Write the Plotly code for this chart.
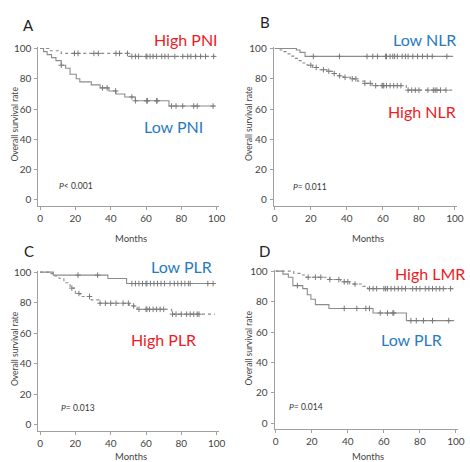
import plotly.graph_objects as go

W, H = 470, 462

# ---------------- data ----------------
# Panel A
a_high_t = [0, 5, 12, 50]
a_high_s = [100, 98.5, 96.8, 94.8]
a_high_cens = [19.5, 21.5, 30.5, 33, 43, 45, 49.5, 52, 54, 55.8, 60, 60.5, 62.3, 64, 66, 68.9, 70.7, 72.6, 76.3, 80.8, 83.6, 85.4, 88.1, 90.9, 93.7, 98.3]
a_low_t = [0, 2, 4, 6.5, 9, 12, 14.5, 17, 20.5, 22.5, 29, 34, 39, 43, 48, 54, 73]
a_low_s = [100, 98, 96, 94, 92, 89, 87, 83, 80, 78, 76, 74, 72, 70, 68, 65.5, 62]
a_low_cens = [12, 35.4, 38, 42.8, 52, 54, 60.4, 60.8, 66, 66.3, 74.4, 77, 80.8, 87, 89, 98]

# Panel B
b_low_t = [0, 12, 14, 16.8]
b_low_s = [100, 99, 97.5, 94.8]
b_low_cens = [21.4, 35.9, 51.2, 54.4, 57, 61.5, 62, 64, 65.5, 66.5, 68, 70.7, 72.5, 74, 76.6, 79.3, 82, 84.7, 87.4, 95.5]
b_high_t = [0, 3, 5, 7, 9, 11, 13, 15, 18, 21, 25, 29, 32, 35, 38, 42, 46, 50, 54, 73]
b_high_s = [100, 99, 98, 96.5, 95, 93.5, 92, 90.5, 89, 87.5, 86, 85, 83.5, 82, 81, 80, 78.5, 77, 75.5, 72.5]
b_high_cens = [20, 23, 27, 30, 33, 36, 39, 43, 45, 50, 53, 56, 59.5, 60, 60.5, 62, 64, 66, 68, 70, 74, 76, 78, 80, 85, 88, 89, 90, 92, 95]

# Panel C
c_low_t = [0, 7.5, 38.4, 49]
c_low_s = [100, 98, 95.8, 92.5]
c_low_cens = [21.5, 32.6, 52, 54, 56, 58, 60, 60.5, 62.5, 64.5, 66.5, 68.5, 70.5, 73.6, 76, 78, 80, 82, 84, 85, 95, 98]
c_high_t = [0, 5, 8, 10.7, 13.5, 17, 20, 22.7, 29, 33.8, 50.5, 55, 74.5]
c_high_s = [100, 99, 97.5, 96, 93, 89.5, 86, 84, 81.8, 79.6, 77.8, 75.6, 72.4]
c_high_cens = [18, 22, 28, 34, 37, 40, 43, 47, 50, 53, 56, 60, 60.5, 62, 64, 66, 68, 70, 75, 77, 80, 83, 85, 87, 89, 90]

# Panel D
d_high_t = [0, 10, 14, 17, 30, 36, 41, 48, 51]
d_high_s = [100, 98.5, 97.5, 96, 94.5, 93, 91.5, 90, 88.5]
d_high_cens = [18, 22, 25, 30, 35, 38, 40, 44, 52, 54, 56, 60, 61, 62, 64, 66, 68, 70, 72, 76, 78, 80, 83, 85, 87, 89, 91, 93, 97]
d_low_t = [0, 4, 7, 9.5, 15, 17.5, 19.5, 22, 29.5, 54, 72.5]
d_low_s = [100, 98, 96, 90.5, 88.5, 84.5, 81.5, 78, 75.5, 72.5, 67.5]
d_low_cens = [12, 38, 45, 50, 52, 58, 62, 65, 65.5, 75, 78, 82, 87, 96]

x_ticks = [0, 20, 40, 60, 80, 100]
y_ticks = [0, 20, 40, 60, 80, 100]
end_time = 99

RED = "#ee1c25"
BLUE = "#2a7ac0"
LINE = "#8c8c8c"
FONT = "Lato"

# ------------- helpers -------------
def step_xy(t, s, end):
    xs, ys = [], []
    for i in range(len(t)):
        if i > 0:
            xs.append(t[i]); ys.append(s[i - 1])
        xs.append(t[i]); ys.append(s[i])
    xs.append(end); ys.append(s[-1])
    return xs, ys

def surv_at(t, s, x):
    v = s[0]
    for ti, si in zip(t, s):
        if ti <= x:
            v = si
    return v

fig = go.Figure()

panels = [
    # (suffix, curves, xdom_px, ydom_px, xrange, yrange)
    ("", [(a_high_t, a_high_s, a_high_cens, "dot"), (a_low_t, a_low_s, a_low_cens, "solid")],
     (37, 221), (42.5, 203), [-1, 101.2], [-3.9, 101]),
    ("2", [(b_low_t, b_low_s, b_low_cens, "solid"), (b_high_t, b_high_s, b_high_cens, "dot")],
     (277, 464), (42.5, 203), [-0.6, 101.2], [-3.9, 101]),
    ("3", [(c_low_t, c_low_s, c_low_cens, "solid"), (c_high_t, c_high_s, c_high_cens, "dot")],
     (37, 221), (268.5, 431), [-1, 101.2], [-4.5, 101]),
    ("4", [(d_high_t, d_high_s, d_high_cens, "dot"), (d_low_t, d_low_s, d_low_cens, "solid")],
     (278, 465), (267.5, 429), [-0.6, 101.2], [-3.9, 101]),
]

layout_axes = {}
for suf, curves, xd, yd, xr, yr in panels:
    xa = "x" + suf
    ya = "y" + suf
    for t, s, cens, dash in curves:
        xs, ys = step_xy(t, s, end_time)
        fig.add_trace(go.Scatter(x=xs, y=ys, mode="lines", xaxis=xa, yaxis=ya,
                                 line=dict(color=LINE, width=1.1, dash=dash),
                                 hoverinfo="skip", showlegend=False))
        fig.add_trace(go.Scatter(x=cens, y=[surv_at(t, s, c) for c in cens], mode="markers",
                                 xaxis=xa, yaxis=ya,
                                 marker=dict(symbol="cross-thin", size=4,
                                             line=dict(color="#7a7a7a", width=1)),
                                 hoverinfo="skip", showlegend=False))
    common = dict(showgrid=False, zeroline=False, showline=True, linecolor="#a0a0a0",
                  linewidth=1, ticks="outside", ticklen=3, tickcolor="#a0a0a0",
                  tickfont=dict(family=FONT, size=10, color="#444"))
    layout_axes["xaxis" + suf] = dict(common, domain=[xd[0] / W, xd[1] / W], range=xr,
                                      tickvals=x_ticks, anchor=ya)
    layout_axes["yaxis" + suf] = dict(common, domain=[1 - yd[1] / H, 1 - yd[0] / H], range=yr,
                                      tickvals=y_ticks, anchor=xa, ticklabelstandoff=1)

fig.update_layout(**layout_axes)

ann = []
def txt(x, y, text, size, color="#333", **kw):
    ann.append(dict(x=x / W, y=1 - y / H, xref="paper", yref="paper", text=text,
                    showarrow=False, font=dict(family=FONT, size=size, color=color),
                    xanchor="center", yanchor="middle", **kw))

# panel letters
for (x, y, L) in [(27, 20, "A"), (268, 17, "B"), (28, 249, "C"), (268, 249, "D")]:
    txt(x, y, L, 15, "#222")

# group labels
txt(188, 35, "High PNI", 16, RED)
txt(175, 123, "Low PNI", 16, BLUE)
txt(431, 35, "Low NLR", 16, BLUE)
txt(428, 108, "High NLR", 16, RED)
txt(183, 264, "Low PLR", 16, BLUE)
txt(165, 338, "High PLR", 16, RED)
txt(436, 271, "High LMR", 16, RED)
txt(417, 338, "Low PLR", 16, BLUE)

# p values
txt(75, 183, "<i>P</i>< 0.001", 8.5)
txt(314, 184, "<i>P</i>= 0.011", 8.5)
txt(77, 407, "<i>P</i>= 0.013", 8.5)
txt(310, 406, "<i>P</i>= 0.014", 8.5)

# axis titles
for (x, y) in [(13, 120), (252, 120), (13, 347), (252, 347)]:
    txt(x, y, "Overall survival rate", 8.5, "#444", textangle=-90)
for (x, y) in [(132, 236), (373, 236), (132, 456), (373, 456)]:
    txt(x, y, "Months", 9.5, "#444")

fig.update_layout(annotations=ann, width=W, height=H,
                  margin=dict(l=0, r=0, t=0, b=0),
                  paper_bgcolor="white", plot_bgcolor="white")

fig.write_html(
    "out.html",
    config={"displayModeBar": False},
    post_script=("document.body.style.margin='0';"
                 "var d=document.getElementById('{plot_id}');"
                 "d.style.position='fixed';d.style.left='0px';d.style.top='0px';"),
)
